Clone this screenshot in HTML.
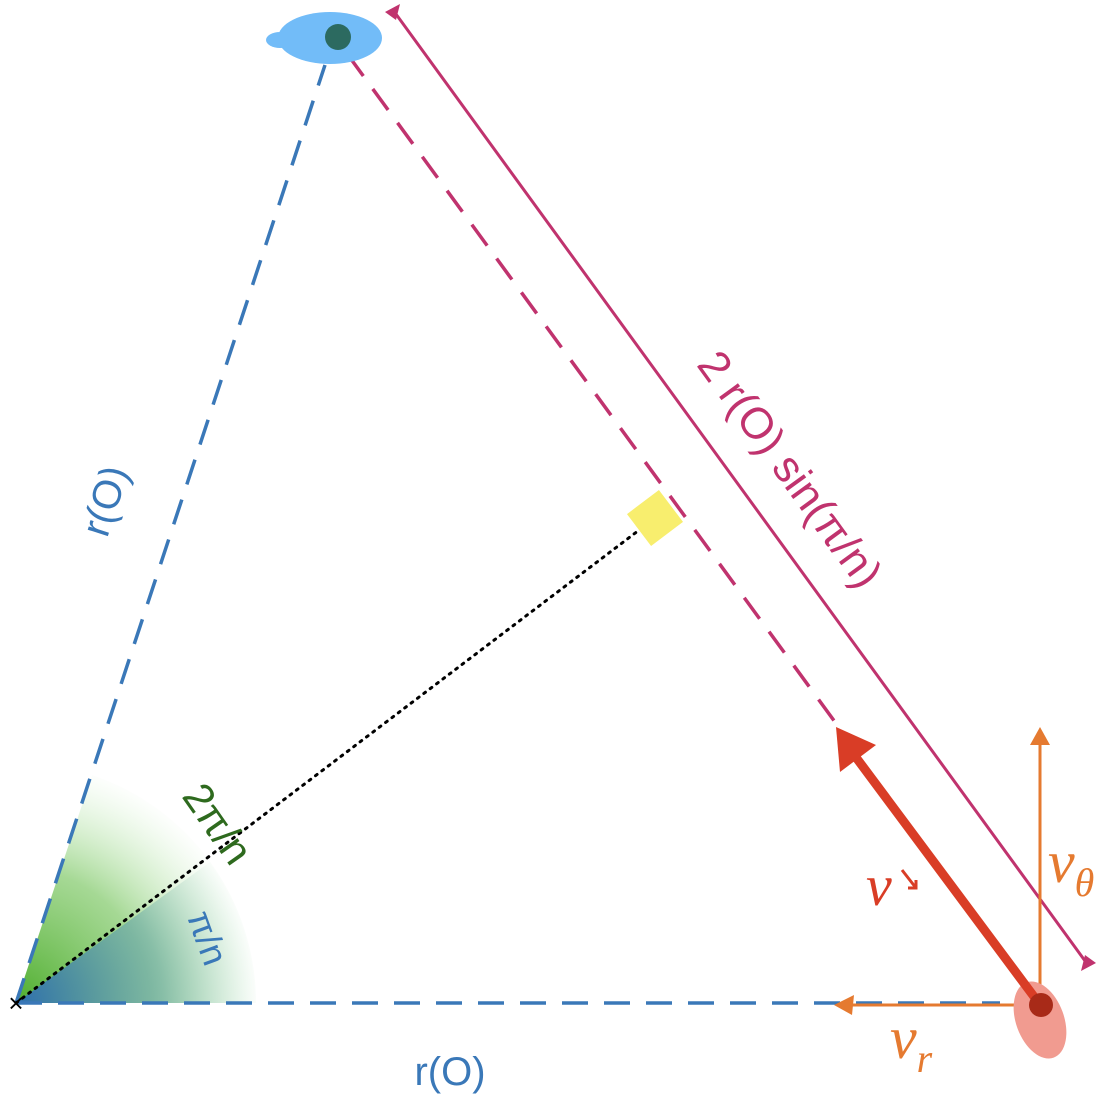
<!DOCTYPE html>
<html><head><meta charset="utf-8"><style>
html,body{margin:0;padding:0;background:#fff;}
svg{display:block;font-family:"Liberation Sans",sans-serif;}
</style></head><body>
<svg width="1114" height="1112" viewBox="0 0 1114 1112">
<defs>
<radialGradient id="gg" cx="16" cy="1003" r="245" gradientUnits="userSpaceOnUse">
<stop offset="0" stop-color="#4fae2e"/><stop offset="0.55" stop-color="#8fcf7a" stop-opacity="0.8"/><stop offset="1" stop-color="#c8eec0" stop-opacity="0"/>
</radialGradient>
<radialGradient id="gb" cx="16" cy="1003" r="245" gradientUnits="userSpaceOnUse">
<stop offset="0" stop-color="#2f6fb0"/><stop offset="0.6" stop-color="#6aa8a8" stop-opacity="0.6"/><stop offset="1" stop-color="#a8d8c0" stop-opacity="0"/>
</radialGradient>
</defs>
<path d="M16,1003 L256,1003 A240,240 0 0 0 92,775 Z" fill="url(#gg)"/>
<path d="M16,1003 L256,1003 A240,240 0 0 0 210,862 Z" fill="url(#gb)"/>
<line x1="16" y1="1003" x2="325" y2="65" stroke="#3a78b8" stroke-width="3.5" stroke-dasharray="26,16"/>
<line x1="16" y1="1003" x2="1000" y2="1003" stroke="#3a78b8" stroke-width="3.5" stroke-dasharray="26,16"/>
<line x1="348" y1="55" x2="835" y2="722" stroke="#c0336e" stroke-width="3.5" stroke-dasharray="26,16"/>
<line x1="16" y1="1003" x2="655" y2="518" stroke="#000" stroke-width="3" stroke-dasharray="2,6" stroke-linecap="round"/>
<rect x="-20" y="-20" width="40" height="40" fill="#f8ee6e" transform="translate(655,518) rotate(-37)"/>
<line x1="393" y1="10" x2="1088" y2="965" stroke="#c0336e" stroke-width="3"/>
<path d="M385,12 L400,4 L396,20 Z" fill="#c0336e"/>
<path d="M1096,963 L1081,971 L1085,955 Z" fill="#c0336e"/>
<text x="778" y="478" font-size="44" fill="#c0336e" text-anchor="middle" transform="rotate(54 778 478)">2 r(O) sin(π/n)</text>
<line x1="1040" y1="1005" x2="1040" y2="745" stroke="#e57a30" stroke-width="3"/>
<path d="M1040,727 L1050,745 L1030,745 Z" fill="#e57a30"/>
<line x1="1040" y1="1005" x2="852" y2="1005" stroke="#e57a30" stroke-width="3"/>
<path d="M834,1005 L854,995 L852,1015 Z" fill="#e57a30"/>
<ellipse cx="1040" cy="1020" rx="24" ry="40" fill="#f19b90" transform="rotate(-20 1040 1020)"/>
<line x1="1038" y1="1002" x2="852" y2="752" stroke="#d93d26" stroke-width="9" stroke-linecap="round"/>
<path d="M836,727 L876,745 L840,772 Z" fill="#d93d26"/>
<circle cx="1041" cy="1005" r="12" fill="#a82a18"/>
<ellipse cx="330" cy="38" rx="52" ry="26" fill="#72bcf8"/>
<ellipse cx="280" cy="40" rx="14" ry="8" fill="#72bcf8"/>
<circle cx="338" cy="37" r="13" fill="#2c6a60"/>
<text x="1048" y="882" font-family="Liberation Serif,serif" font-style="italic" font-size="60" fill="#e57a30">v<tspan font-size="40" dy="14">θ</tspan></text>
<text x="890" y="1058" font-family="Liberation Serif,serif" font-style="italic" font-size="60" fill="#e57a30">v<tspan font-size="40" dy="14">r</tspan></text>
<text x="866" y="905" font-family="Liberation Serif,serif" font-style="italic" font-size="58" fill="#d93d26">v</text>
<path d="M902,870 L916,888 M908,888 L916,888 L916,880" stroke="#d93d26" stroke-width="3" fill="none"/>
<text x="118" y="505" font-size="40" fill="#3a78b8" text-anchor="middle" transform="rotate(-72 118 505)">r(O)</text>
<text x="450" y="1085" font-size="40" fill="#3a78b8" text-anchor="middle">r(O)</text>
<text x="206" y="832" font-size="42" fill="#2e6a1e" text-anchor="middle" transform="rotate(55 206 832)">2π/n</text>
<text x="196" y="942" font-size="36" fill="#3a78b8" text-anchor="middle" transform="rotate(70 196 942)">π/n</text>
<text x="16" y="1012" font-size="26" fill="#000" text-anchor="middle">×</text>
</svg>
</body></html>
